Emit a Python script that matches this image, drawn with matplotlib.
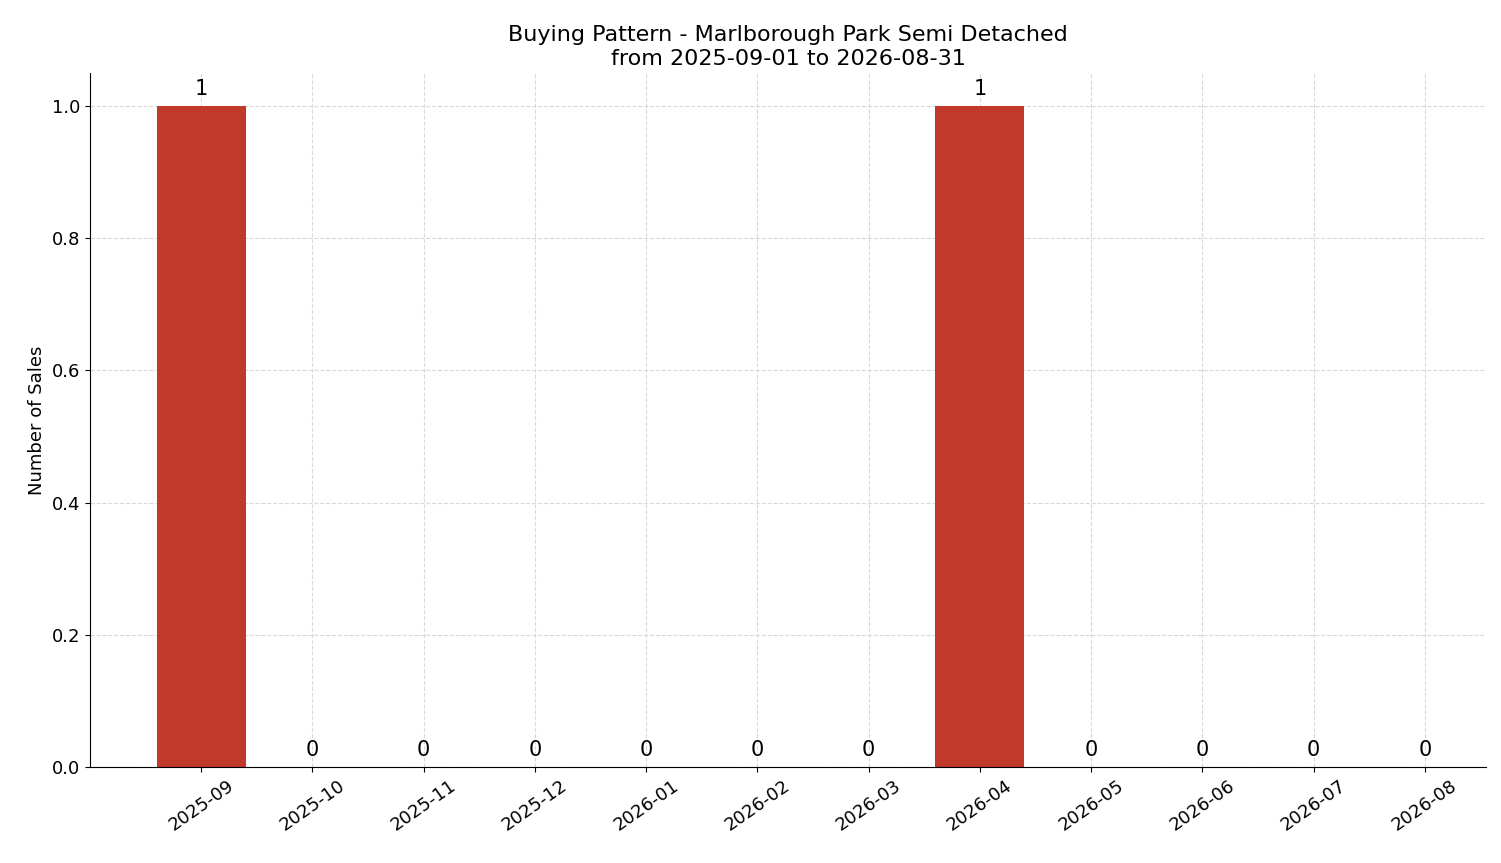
import matplotlib
matplotlib.use("Agg")
import matplotlib.pyplot as plt

months = ["2025-09","2025-10","2025-11","2025-12","2026-01","2026-02",
          "2026-03","2026-04","2026-05","2026-06","2026-07","2026-08"]
sales = [1,0,0,0,0,0,0,1,0,0,0,0]

fig = plt.figure(figsize=(15.01, 8.63), dpi=100)
ax = fig.add_axes([90/1501, 1-767/863, (1486-90)/1501, (767-73)/863])
x = range(len(months))
bars = ax.bar(x, sales, width=0.8, color="#c0392b", zorder=2)
for xi, v in zip(x, sales):
    ax.text(xi, v + 0.01, str(v), ha="center", va="bottom", fontsize=15)
ax.set_xticks(list(x))
ax.set_xticklabels(months, rotation=35, fontsize=13)
ax.tick_params(axis="y", labelsize=13)
ax.set_ylim(0, 1.05)
ax.set_xlim(-1.0, 11.55)
ax.set_ylabel("Number of Sales", fontsize=13)
ax.set_title("Buying Pattern - Marlborough Park Semi Detached\nfrom 2025-09-01 to 2026-08-31", fontsize=16)
ax.grid(True, linestyle="--", color="#d9d9d9", linewidth=0.8, zorder=3)
ax.spines["top"].set_visible(False)
ax.spines["right"].set_visible(False)
fig.savefig("out.png", dpi=100)
